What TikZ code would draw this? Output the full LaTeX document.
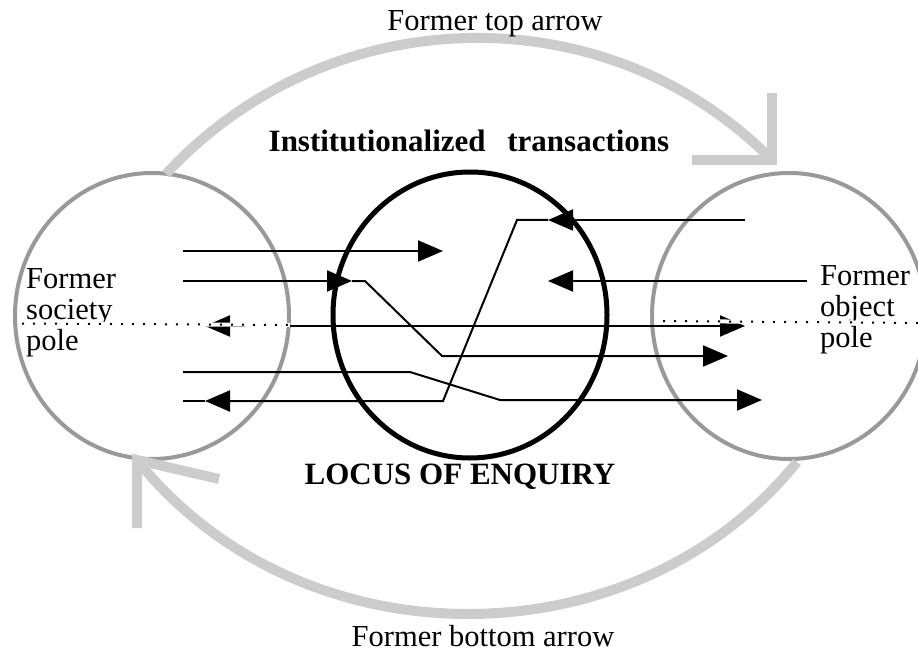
\documentclass[tikz,border=0pt]{standalone}
\usepackage{fontspec}
\setmainfont{Liberation Serif}
\usetikzlibrary{arrows.meta,shapes.geometric}
\definecolor{polegray}{gray}{0.6}
\definecolor{arcgray}{gray}{0.8}
\begin{document}
\begin{tikzpicture}[x=1pt,y=-1pt,
  pole/.style={draw=polegray, line width=4pt, ellipse, minimum width=274pt, minimum height=286pt, inner sep=0pt, outer sep=0pt},
  locus/.style={draw=black, line width=5pt, ellipse, minimum width=274pt, minimum height=286pt, inner sep=0pt, outer sep=0pt},
  bigarrow/.style={draw=arcgray, line width=10pt},
  barb/.style={draw=arcgray, line width=10pt, line join=miter},
  flow/.style={draw=black, line width=2pt},
  tip/.style={-{Triangle[length=25pt,width=21pt]}},
  dottedline/.style={draw=black, line width=2pt, dash pattern=on 2pt off 9pt},
  whiteunder/.style={draw=white, line width=4pt},
  lbl/.style={font=\fontsize{30.5}{31}\selectfont, inner sep=0pt},
  blbl/.style={font=\fontsize{31}{31}\selectfont\bfseries, inner sep=0pt},
]
\useasboundingbox (0,0) rectangle (918,655);
% poles and locus
\node[pole] (soc) at (152,316) {};
\node[pole] (obj) at (789,316) {};
% big grey arrows
\coordinate (tA) at (166,174);
\coordinate (tB) at (772,160);
\coordinate (tB1) at (772,93);
\coordinate (tB2) at (692,160);
\draw[bigarrow] (tA) .. controls (329,-2) and (606,-8) .. (tB);
\draw[barb] (tB1) -- (tB) -- (tB2);
\coordinate (bA) at (797,462);
\coordinate (bB) at (137,460);
\coordinate (bB1) at (137,528);
\coordinate (bB2) at (219,479);
\draw[bigarrow] (bA) .. controls (633,665) and (301,665) .. (bB);
\draw[barb] (bB1) -- (bB) -- (bB2);
% texts
\node[lbl, anchor=base] (toplbl) at (495,31) {Former top arrow};
\node[lbl, anchor=base] (botlbl) at (483,646) {Former bottom arrow};
\node[blbl, anchor=base] (inst) at (469,152) {Institutionalized\hspace{0.7em}transactions};
\node[blbl, anchor=base] (enq) at (460,484) {LOCUS OF ENQUIRY};
\node[lbl, anchor=base west] (socA) at (26,288) {Former};
\node[lbl, anchor=base west] (socB) at (26,319) {society};
\node[lbl, anchor=base west] (socC) at (26,350) {pole};
\node[lbl, anchor=base west] (objA) at (820,285) {Former};
\node[lbl, anchor=base west] (objB) at (820,316) {object};
\node[lbl, anchor=base west] (objC) at (820,347) {pole};
% locus circle
\node[locus] (loc) at (470,315) {};
% flow lines
\coordinate (a1) at (183,251);
\coordinate (a2) at (443,251);
\draw[flow, tip] (a1) -- (a2);
\coordinate (b1) at (183,281);
\coordinate (b2) at (352,281);
\coordinate (b3) at (365,281);
\coordinate (b4) at (442,356);
\coordinate (b5) at (728,356);
\draw[flow, tip] (b1) -- (b2);
\draw[flow, tip] (b2) -- (b3) -- (b4) -- (b5);
\coordinate (c1) at (205,326);
\coordinate (c2) at (745,326);
\draw[flow, {Triangle[length=25pt,width=21pt]}-{Triangle[length=25pt,width=21pt]}] (c1) -- (c2);
\coordinate (d1) at (183,372);
\coordinate (d2) at (410,372);
\coordinate (d3) at (500,400);
\coordinate (d4) at (762,400);
\draw[flow, tip] (d1) -- (d2) -- (d3) -- (d4);
\coordinate (e1) at (745,220);
\coordinate (e2) at (548,220);
\coordinate (e3) at (517,220);
\coordinate (e4) at (443,401);
\coordinate (e5) at (205,401);
\coordinate (e6) at (183,401);
\draw[flow, tip] (e1) -- (e2);
\draw[flow, tip] (e2) -- (e3) -- (e4) -- (e5);
\draw[flow] (e5) -- (e6);
\coordinate (f1) at (807,281);
\coordinate (f2) at (548,281);
\draw[flow, tip] (f1) -- (f2);
% dotted former axis
\coordinate (g1) at (22,323.5);
\coordinate (g2) at (290,325);
\coordinate (h1) at (663,321);
\coordinate (h2) at (918,323);
\draw[whiteunder] (g1) -- (g2);
\draw[dottedline] (g1) -- (g2);
\draw[whiteunder] (h1) -- (h2);
\draw[dottedline] (h1) -- (h2);
\end{tikzpicture}
\end{document}
